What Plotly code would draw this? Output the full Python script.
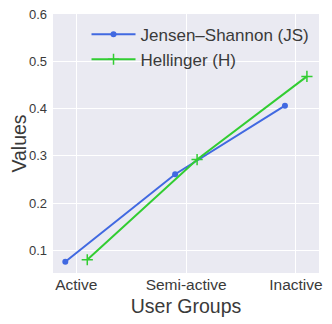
import plotly.graph_objects as go

categories = ["Active", "Semi-active", "Inactive"]
js_values = [0.076, 0.261, 0.406]
h_values = [0.080, 0.292, 0.468]
y_ticks = [0.1, 0.2, 0.3, 0.4, 0.5, 0.6]

offset = 0.1
idx = list(range(len(categories)))

fig = go.Figure()
fig.add_trace(go.Scatter(
    x=[i - offset for i in idx], y=js_values, mode="lines+markers",
    name="Jensen–Shannon (JS)", legendgroup="js",
    line=dict(color="#4169E1", width=2),
    marker=dict(symbol="circle", size=6, color="#4169E1"),
))
fig.add_trace(go.Scatter(
    x=[i + offset for i in idx], y=h_values, mode="lines+markers",
    name="Hellinger (H)", legendgroup="h",
    line=dict(color="#32CD32", width=2),
    marker=dict(symbol="cross-thin", size=8, line=dict(color="#32CD32", width=1.5)),
))

font_family = "Liberation Sans, Arial, sans-serif"
txt = "#3a3a3a"
fig.update_layout(
    width=324, height=316,
    margin=dict(l=45, r=13, t=6, b=51, autoexpand=False),
    paper_bgcolor="white",
    plot_bgcolor="#EAEAF2",
    font=dict(family=font_family, color=txt),
    showlegend=True,
    legend=dict(
        x=0.126, y=0.99, xanchor="left", yanchor="top",
        bgcolor="rgba(0,0,0,0)", font=dict(size=17, color=txt),
        itemwidth=44, tracegroupgap=0,
    ),
    xaxis=dict(
        range=[-0.212, 2.21], tickvals=idx, ticktext=categories,
        showgrid=True, gridcolor="white", gridwidth=1,
        zeroline=False, showline=False, ticks="", automargin=False,
        tickfont=dict(size=15.5, color=txt), ticklabelstandoff=0,
        ticklabeloverflow="allow",
        title=dict(text="User Groups", font=dict(size=19.5, color=txt), standoff=7),
    ),
    yaxis=dict(
        range=[0.052, 0.6], tickvals=y_ticks, ticktext=[f"{v:.1f}" for v in y_ticks],
        showgrid=True, gridcolor="white", gridwidth=1,
        zeroline=False, showline=False, ticks="", automargin=False,
        tickfont=dict(size=13, color=txt), ticklabelstandoff=5,
        ticklabeloverflow="allow",
        title=dict(text="Values", font=dict(size=19.5, color=txt), standoff=0),
    ),
)

fig.write_html("out.html")
